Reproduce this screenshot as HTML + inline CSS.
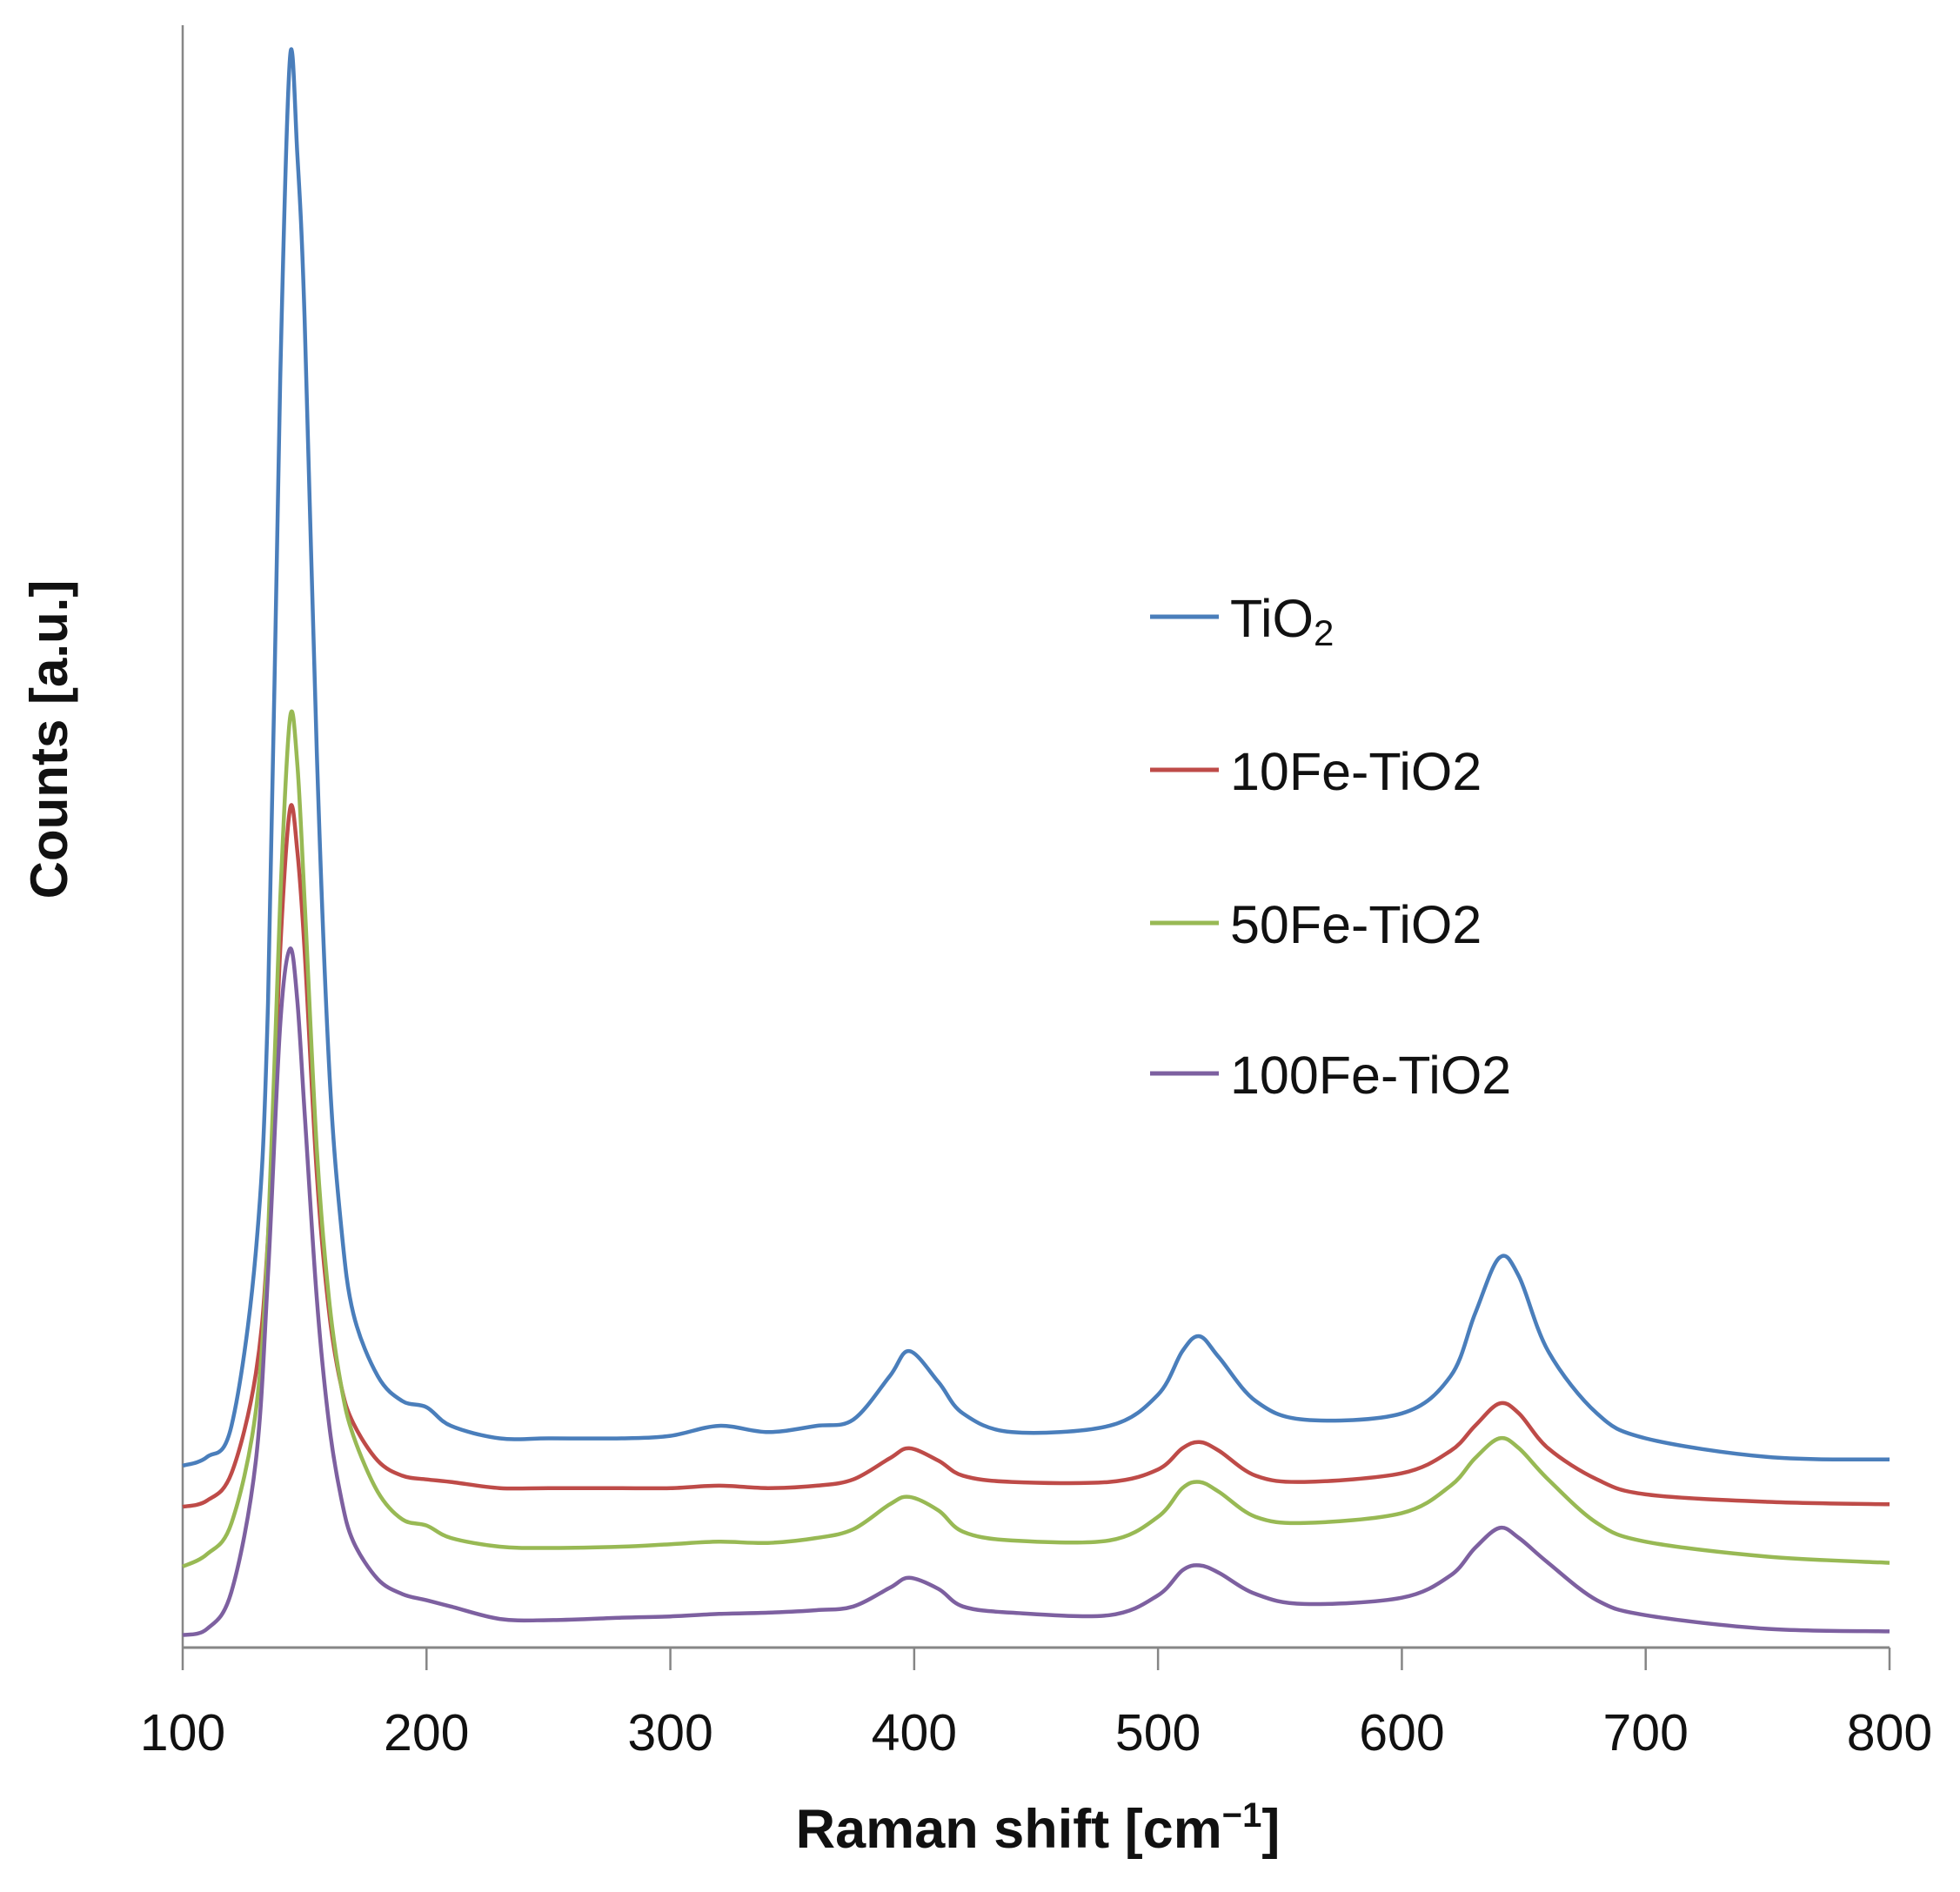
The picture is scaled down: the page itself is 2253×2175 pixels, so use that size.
<!DOCTYPE html>
<html><head><meta charset="utf-8"><style>
html,body{margin:0;padding:0;background:#fff;}
svg{display:block;}
text{font-family:"Liberation Sans","DejaVu Sans",sans-serif;fill:#111;}
</style></head><body>
<svg id="chart" width="2253" height="2175" viewBox="0 0 2253 2175" xmlns="http://www.w3.org/2000/svg">
<g id="axes"></g>
<g id="series"></g>
<g id="legend"></g>
<text x="1193" y="2124" font-size="63" font-weight="bold" text-anchor="middle">Raman shift [cm<tspan dy="-24" font-size="40">−1</tspan><tspan dy="24">]</tspan></text>
<text transform="translate(77,850) rotate(-90)" font-size="60" font-weight="bold" text-anchor="middle">Counts [a.u.]</text>
</svg>
<script>
const xs = [100,110,120,130,135,140,144,147,150,155,160,165,170,180,190,200,210,230,250,280,300,320,340,360,375,390,398,410,420,440,480,500,510,517,525,540,560,600,620,630,640,648,660,680,700,750,800];
const tio2 = [146,153,178,318,518,1018,1276,1200,1068,718,468,338,268,218,198,193,178,168,168,168,170,178,173,178,183,218,238,213,188,173,178,203,238,250,233,198,183,188,218,268,313,298,238,188,168,153,151];
const fe10 = [113,118,140,220,330,560,673,640,560,380,270,210,180,150,138,135,133,128,128,128,128,130,128,130,135,152,160,150,138,133,133,143,160,165,158,138,133,140,158,178,196,188,160,135,123,117,115];
const fe50 = [65,75,100,190,330,600,746,710,600,400,280,210,170,125,103,98,88,81,80,81,83,85,84,88,95,115,121,110,93,86,86,105,128,133,125,105,100,108,130,152,168,160,135,100,85,73,68];
const fe100 = [10,15,45,150,300,500,561,520,430,280,180,120,85,55,43,38,33,23,22,24,25,27,28,30,33,48,56,47,33,28,26,42,62,66,60,43,35,40,58,80,96,88,68,38,26,15,13];
const xTicks = [100,200,300,400,500,600,700,800];
const seriesNames = ["TiO2","10Fe-TiO2","50Fe-TiO2","100Fe-TiO2"];
const seriesColors = ["#4a7ebb","#be4b48","#98b954","#7d60a0"];

const X0=210, X1=2172, Y0=1894, YTOP=29;
const xMin=100, xMax=800, yMax=1290;
function sx(v){return X0+(v-xMin)/(xMax-xMin)*(X1-X0);}
function sy(v){return Y0-v/yMax*(Y0-YTOP-18);}
const NS="http://www.w3.org/2000/svg";
function mk(tag,attrs,parent){const e=document.createElementNS(NS,tag);for(const k in attrs)e.setAttribute(k,attrs[k]);parent.appendChild(e);return e;}

const axes=document.getElementById('axes');
const yl=mk('line',{x1:X0,y1:YTOP,x2:X0,y2:Y0,stroke:'#868686','stroke-width':2.5},axes);


const xl=mk('line',{x1:X0,y1:Y0,x2:X1,y2:Y0,stroke:'#868686','stroke-width':3},axes);


xTicks.forEach(t=>{
  const tk=mk('line',{x1:sx(t),y1:Y0,x2:sx(t),y2:Y0+26,stroke:'#868686','stroke-width':2.5},axes);
  
  
  const lb=mk('text',{x:sx(t),y:2012,'font-size':59,'text-anchor':'middle'},axes);
  lb.textContent=t;
  
  
});

const sg=document.getElementById('series');
[tio2,fe10,fe50,fe100].forEach((arr,i)=>{
  const P=arr.map((v,j)=>[sx(xs[j]),sy(v)]);
  let d='M'+P[0][0].toFixed(1)+' '+P[0][1].toFixed(1);
  for(let j=0;j<P.length-1;j++){
    const p0=P[Math.max(0,j-1)],p1=P[j],p2=P[j+1],p3=P[Math.min(P.length-1,j+2)];
    const c1=[p1[0]+(p2[0]-p0[0])/6,p1[1]+(p2[1]-p0[1])/6];
    const c2=[p2[0]-(p3[0]-p1[0])/6,p2[1]-(p3[1]-p1[1])/6];
    d+=' C'+c1[0].toFixed(1)+' '+c1[1].toFixed(1)+' '+c2[0].toFixed(1)+' '+c2[1].toFixed(1)+' '+p2[0].toFixed(1)+' '+p2[1].toFixed(1);
  }
  const p=mk('path',{d:d,fill:'none',stroke:seriesColors[i],'stroke-width':4.5,'stroke-linejoin':'round'},sg);
  
  
});

const lg=document.getElementById('legend');
const rows=[711,887,1063,1236];
seriesNames.forEach((n,i)=>{
  const ln=mk('line',{x1:1322,y1:rows[i]-2,x2:1401,y2:rows[i]-2,stroke:seriesColors[i],'stroke-width':5},lg);
  
  
  const t=mk('text',{x:1414,y:rows[i]+21,'font-size':61},lg);
  if(i===0){t.innerHTML='TiO<tspan font-size="42" dy="10">2</tspan>';}
  else t.textContent=n;
  
  
});
</script>
</body></html>
